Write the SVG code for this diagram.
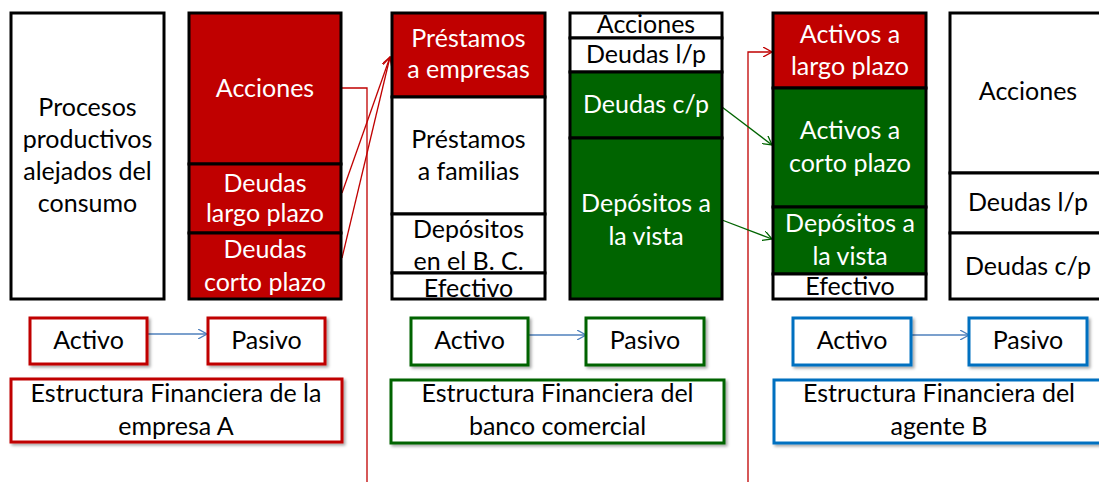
<svg xmlns="http://www.w3.org/2000/svg" width="1099" height="482" viewBox="0 0 1099 482">
<style>
text{font-family:Lato,"Liberation Sans",sans-serif;font-size:25px;text-anchor:middle}
.w{fill:#fff}
.k{fill:#000}
.box{stroke:#000;stroke-width:3}
.red{fill:#C00000}
.grn{fill:#006400}
.wht{fill:#fff}
.lbl{fill:#fff;stroke-width:3}
.conn line,.conn polyline{fill:none;stroke-width:1.3}
</style>
<defs>
<marker id="ar" viewBox="0 0 10 10" refX="9" refY="5" markerWidth="10" markerHeight="10" markerUnits="userSpaceOnUse" orient="auto"><path d="M0,0 L9,5 L0,10" fill="none" stroke="#C00000" stroke-width="1.3"/></marker>
<marker id="ag" viewBox="0 0 10 10" refX="9" refY="5" markerWidth="10" markerHeight="10" markerUnits="userSpaceOnUse" orient="auto"><path d="M0,0 L9,5 L0,10" fill="none" stroke="#006400" stroke-width="1.3"/></marker>
<marker id="ab" viewBox="0 0 10 10" refX="9" refY="5" markerWidth="10" markerHeight="10" markerUnits="userSpaceOnUse" orient="auto"><path d="M0,0 L9,5 L0,10" fill="none" stroke="#4F81BD" stroke-width="1.3"/></marker>
<filter id="sh" x="-5%" y="-10%" width="115%" height="130%"><feDropShadow dx="2" dy="2" stdDeviation="1.5" flood-color="#000" flood-opacity="0.35"/></filter>
</defs>
<rect width="1099" height="482" fill="#fff"/>

<g class="conn">
<polyline points="342,88 367,88 367,482" stroke="#C00000"/>
<line x1="342" y1="193" x2="390" y2="57" stroke="#C00000" marker-end="url(#ar)"/>
<line x1="342" y1="258" x2="390" y2="57" stroke="#C00000" marker-end="url(#ar)"/>
<polyline points="748,482 748,52 772,52" stroke="#C00000" marker-end="url(#ar)"/>
<line x1="722" y1="107" x2="772" y2="145" stroke="#006400" marker-end="url(#ag)"/>
<line x1="722" y1="220" x2="772" y2="239" stroke="#006400" marker-end="url(#ag)"/>
<line x1="147" y1="334" x2="207" y2="334" stroke="#4F81BD" marker-end="url(#ab)"/>
<line x1="528" y1="335" x2="586" y2="335" stroke="#4F81BD" marker-end="url(#ab)"/>
<line x1="911" y1="335" x2="969" y2="335" stroke="#4F81BD" marker-end="url(#ab)"/>
</g>

<g id="col1">
<rect class="box wht" x="11" y="13" width="153" height="286"/>
<text class="k" x="87.5" y="116">Procesos</text>
<text class="k" x="87.5" y="148">productivos</text>
<text class="k" x="87.5" y="180">alejados del</text>
<text class="k" x="87.5" y="212">consumo</text>
</g>

<g id="col2">
<rect class="box red" x="189" y="13" width="152" height="151"/>
<rect class="box red" x="189" y="164" width="152" height="69"/>
<rect class="box red" x="189" y="233" width="152" height="66"/>
<text class="w" x="265" y="97">Acciones</text>
<text class="w" x="265" y="192">Deudas</text>
<text class="w" x="265" y="222">largo plazo</text>
<text class="w" x="265" y="258">Deudas</text>
<text class="w" x="265" y="291">corto plazo</text>
</g>

<g id="col3">
<rect class="box red" x="392" y="13" width="153" height="84"/>
<rect class="box wht" x="392" y="97" width="153" height="117"/>
<rect class="box wht" x="392" y="214" width="153" height="59"/>
<rect class="box wht" x="392" y="273" width="153" height="26"/>
<text class="w" x="468.5" y="47">Préstamos</text>
<text class="w" x="468.5" y="78">a empresas</text>
<text class="k" x="468.5" y="148">Préstamos</text>
<text class="k" x="468.5" y="180">a familias</text>
<text class="k" x="468.5" y="238">Depósitos</text>
<text class="k" x="468.5" y="270">en el B. C.</text>
<text class="k" x="468.5" y="297">Efectivo</text>
</g>

<g id="col4">
<rect class="box wht" x="570" y="13" width="152" height="25"/>
<rect class="box wht" x="570" y="38" width="152" height="34"/>
<rect class="box grn" x="570" y="72" width="152" height="66"/>
<rect class="box grn" x="570" y="138" width="152" height="161"/>
<text class="k" x="646" y="33">Acciones</text>
<text class="k" x="646" y="63">Deudas l/p</text>
<text class="w" x="646" y="113">Deudas c/p</text>
<text class="w" x="646" y="212">Depósitos a</text>
<text class="w" x="646" y="245">la vista</text>
</g>

<g id="col5">
<rect class="box red" x="773" y="13" width="153" height="75"/>
<rect class="box grn" x="773" y="88" width="153" height="119"/>
<rect class="box grn" x="773" y="207" width="153" height="67"/>
<rect class="box wht" x="773" y="274" width="153" height="25"/>
<text class="w" x="850" y="43">Activos a</text>
<text class="w" x="850" y="75">largo plazo</text>
<text class="w" x="850" y="139">Activos a</text>
<text class="w" x="850" y="172">corto plazo</text>
<text class="w" x="850" y="232">Depósitos a</text>
<text class="w" x="850" y="265">la vista</text>
<text class="k" x="850" y="295">Efectivo</text>
</g>

<g id="col6">
<rect class="box wht" x="950" y="13" width="156" height="160"/>
<rect class="box wht" x="950" y="173" width="156" height="60"/>
<rect class="box wht" x="950" y="233" width="156" height="66"/>
<text class="k" x="1028" y="100">Acciones</text>
<text class="k" x="1028" y="211">Deudas l/p</text>
<text class="k" x="1028" y="275">Deudas c/p</text>
</g>

<g id="legendA" filter="url(#sh)">
<rect class="lbl" stroke="#C00000" x="30" y="318" width="117" height="46"/>
<rect class="lbl" stroke="#C00000" x="208" y="318" width="117" height="46"/>
<rect class="lbl" stroke="#C00000" x="11" y="379" width="331" height="63"/>
</g>
<g id="legendA-text">
<text class="k" x="88.5" y="349">Activo</text>
<text class="k" x="266.5" y="349">Pasivo</text>
<text class="k" x="176" y="402">Estructura Financiera de la</text>
<text class="k" x="176" y="435">empresa A</text>
</g>

<g id="legendB" filter="url(#sh)">
<rect class="lbl" stroke="#006400" x="411" y="318" width="117" height="47"/>
<rect class="lbl" stroke="#006400" x="586" y="318" width="118" height="47"/>
<rect class="lbl" stroke="#006400" x="391" y="380" width="333" height="63"/>
</g>
<g id="legendB-text">
<text class="k" x="469.5" y="349">Activo</text>
<text class="k" x="645" y="349">Pasivo</text>
<text class="k" x="557.5" y="402">Estructura Financiera del</text>
<text class="k" x="557.5" y="435">banco comercial</text>
</g>

<g id="legendC" filter="url(#sh)">
<rect class="lbl" stroke="#0070C0" x="793" y="318" width="118" height="47"/>
<rect class="lbl" stroke="#0070C0" x="969" y="318" width="118" height="47"/>
<rect class="lbl" stroke="#0070C0" x="774" y="380" width="332" height="63"/>
</g>
<g id="legendC-text">
<text class="k" x="852" y="349">Activo</text>
<text class="k" x="1028" y="349">Pasivo</text>
<text class="k" x="939" y="402">Estructura Financiera del</text>
<text class="k" x="939" y="435">agente B</text>
</g>
</svg>
